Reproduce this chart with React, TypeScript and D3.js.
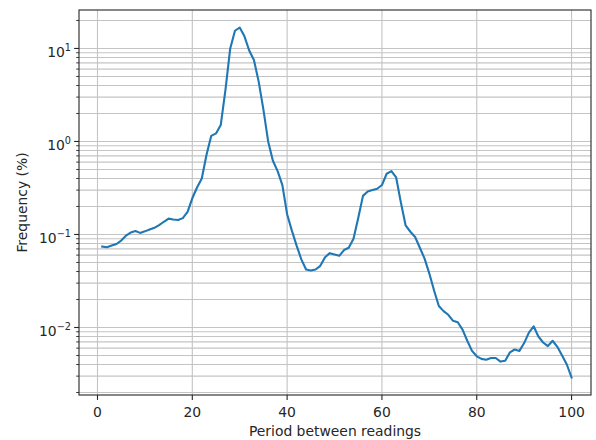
import React from "react";
import * as d3 from "d3";

// Period between readings (x) and share of readings at that period, in percent (y)
const periods = [
  1, 2, 3, 4, 5, 6, 7, 8, 9, 10,
  11, 12, 13, 14, 15, 16, 17, 18, 19, 20,
  21, 22, 23, 24, 25, 26, 27, 28, 29, 30,
  31, 32, 33, 34, 35, 36, 37, 38, 39, 40,
  41, 42, 43, 44, 45, 46, 47, 48, 49, 50,
  51, 52, 53, 54, 55, 56, 57, 58, 59, 60,
  61, 62, 63, 64, 65, 66, 67, 68, 69, 70,
  71, 72, 73, 74, 75, 76, 77, 78, 79, 80,
  81, 82, 83, 84, 85, 86, 87, 88, 89, 90,
  91, 92, 93, 94, 95, 96, 97, 98, 99, 100,
];

const frequency = [
  0.074, 0.073, 0.076, 0.079, 0.086, 0.097, 0.105, 0.109, 0.104, 0.108,
  0.113, 0.118, 0.126, 0.137, 0.148, 0.145, 0.143, 0.15, 0.175, 0.245,
  0.32, 0.4, 0.72, 1.15, 1.22, 1.5, 3.6, 10.0, 15.5, 16.8,
  13.5, 9.5, 7.5, 4.4, 2.2, 1.0, 0.62, 0.48, 0.34, 0.165,
  0.11, 0.076, 0.054, 0.042, 0.041, 0.042, 0.046, 0.057, 0.063, 0.061,
  0.059, 0.068, 0.072, 0.09, 0.15, 0.26, 0.29, 0.3, 0.31, 0.34,
  0.45, 0.48, 0.41, 0.22, 0.125, 0.107, 0.094, 0.072, 0.055, 0.038,
  0.025, 0.017, 0.015, 0.0137, 0.0118, 0.0114, 0.0095, 0.0072, 0.0056, 0.0049,
  0.0046, 0.0045, 0.0047, 0.0047, 0.0043, 0.0044, 0.0054, 0.0058, 0.0056, 0.0068,
  0.0088, 0.0103, 0.008, 0.0069, 0.0063, 0.0072, 0.0062, 0.005, 0.004, 0.0029,
];

const xTickValues = [0, 20, 40, 60, 80, 100];
const yDecades = [-2, -1, 0, 1];
const minorMultipliers = [2, 3, 4, 5, 6, 7, 8, 9];
const xLabel = "Period between readings";
const yLabel = "Frequency (%)";

const WIDTH = 596;
const HEIGHT = 440;
const PLOT = { left: 79, right: 591, top: 10, bottom: 395 };
const FONT = "'DejaVu Sans', sans-serif";
const GRID = "#c4c4c4";
const LINE = "#1f77b4";

export default function App() {
  const x = d3.scaleLinear().domain([-3.9, 104.1]).range([PLOT.left, PLOT.right]);

  const [lo, hi] = d3.extent(frequency).map((v) => Math.log10(v as number));
  const pad = (hi - lo) * 0.05;
  const y = d3
    .scaleLog()
    .domain([Math.pow(10, lo - pad), Math.pow(10, hi + pad)])
    .range([PLOT.bottom, PLOT.top]);
  const [yMin, yMax] = y.domain();

  const majorY = yDecades.map((e) => Math.pow(10, e));
  const minorY: number[] = [];
  for (let e = -3; e <= 1; e++) {
    for (const m of minorMultipliers) {
      const v = m * Math.pow(10, e);
      if (v >= yMin && v <= yMax) minorY.push(v);
    }
  }

  const line = d3
    .line<number>()
    .x((_, i) => x(periods[i]))
    .y((d) => y(d));

  return (
    <svg
      width={WIDTH}
      height={HEIGHT}
      style={{ position: "absolute", left: 0, top: 0, background: "#fff" }}
      fontFamily={FONT}
    >
      <defs>
        <clipPath id="plot-area">
          <rect
            x={PLOT.left}
            y={PLOT.top}
            width={PLOT.right - PLOT.left}
            height={PLOT.bottom - PLOT.top}
          />
        </clipPath>
      </defs>

      {/* grid */}
      <g stroke={GRID} strokeWidth={1.1}>
        {[...majorY, ...minorY].map((v, i) => (
          <line key={`gy${i}`} x1={PLOT.left} x2={PLOT.right} y1={y(v)} y2={y(v)} />
        ))}
        {xTickValues.map((v) => (
          <line key={`gx${v}`} x1={x(v)} x2={x(v)} y1={PLOT.top} y2={PLOT.bottom} />
        ))}
      </g>

      {/* frequency curve */}
      <path
        d={line(frequency) ?? ""}
        fill="none"
        stroke={LINE}
        strokeWidth={2.1}
        strokeLinejoin="round"
        strokeLinecap="square"
        clipPath="url(#plot-area)"
      />

      {/* frame */}
      <rect
        x={PLOT.left}
        y={PLOT.top}
        width={PLOT.right - PLOT.left}
        height={PLOT.bottom - PLOT.top}
        fill="none"
        stroke="#262626"
        strokeWidth={1.1}
      />

      {/* x axis ticks and labels */}
      <g>
        {xTickValues.map((v) => (
          <g key={`xt${v}`}>
            <line x1={x(v)} x2={x(v)} y1={PLOT.bottom} y2={PLOT.bottom + 4.9} stroke="#262626" strokeWidth={1.1} />
            <text x={x(v)} y={417} textAnchor="middle" fontSize={13.9} fill="#262626">
              {v}
            </text>
          </g>
        ))}
        <text x={(PLOT.left + PLOT.right) / 2} y={436} textAnchor="middle" fontSize={13.9} fill="#262626">
          {xLabel}
        </text>
      </g>

      {/* y axis ticks and labels */}
      <g>
        {minorY.map((v, i) => (
          <line key={`ymt${i}`} x1={PLOT.left - 2.8} x2={PLOT.left} y1={y(v)} y2={y(v)} stroke="#262626" strokeWidth={0.9} />
        ))}
        {yDecades.map((e) => {
          const ty = y(Math.pow(10, e));
          return (
            <g key={`yt${e}`}>
              <line x1={PLOT.left - 4.9} x2={PLOT.left} y1={ty} y2={ty} stroke="#262626" strokeWidth={1.1} />
              <text x={71} y={ty + 8.5} textAnchor="end" fontSize={13.9} fill="#262626">
                10
                <tspan fontSize={9.7} dy={-6.4}>
                  {e < 0 ? `\u2212${-e}` : `${e}`}
                </tspan>
              </text>
            </g>
          );
        })}
        <text
          transform={`translate(27,${(PLOT.top + PLOT.bottom) / 2}) rotate(-90)`}
          textAnchor="middle"
          fontSize={13.9}
          fill="#262626"
        >
          {yLabel}
        </text>
      </g>
    </svg>
  );
}
